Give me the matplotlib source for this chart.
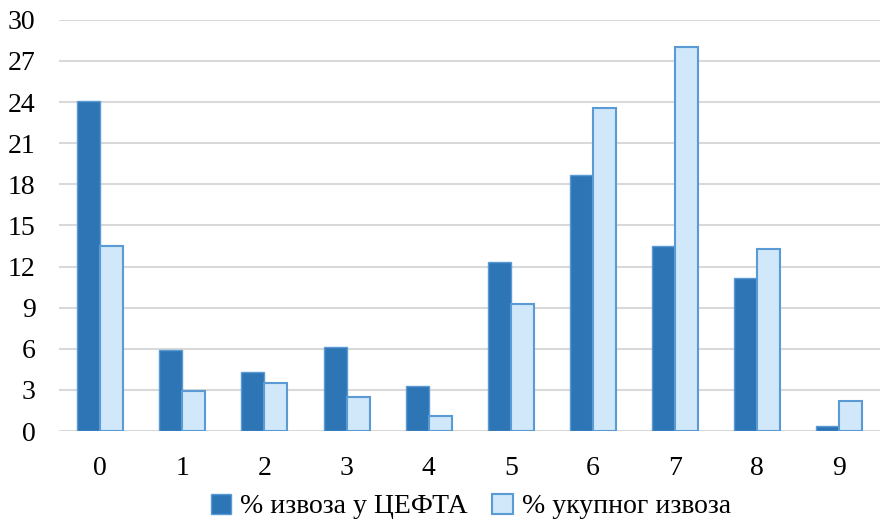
import numpy as np
import matplotlib.pyplot as plt

# ---- data ----
categories = ["0", "1", "2", "3", "4", "5", "6", "7", "8", "9"]
cefta_share = [24.1, 5.9, 4.3, 6.1, 3.3, 12.3, 18.7, 13.5, 11.2, 0.4]
total_share = [13.5, 2.9, 3.5, 2.5, 1.1, 9.3, 23.6, 28.0, 13.3, 2.2]
series_labels = ["% извоза у ЦЕФТА", "% укупног извоза"]

plt.rcParams["font.family"] = ["Liberation Serif", "DejaVu Serif"]

DARK = "#2E75B6"
LIGHT = "#D0E8F9"
EDGE = "#5B9BD5"

fig = plt.figure(figsize=(8.83, 5.20), dpi=100)
ax = fig.add_axes([0.067, 0.171, 0.930, 0.791])

x = np.arange(len(categories))
w = 0.28
ax.bar(x - w / 2, cefta_share, w, color=DARK, edgecolor=EDGE, linewidth=1.0,
       label=series_labels[0], zorder=3)
ax.bar(x + w / 2, total_share, w, color=LIGHT, edgecolor=EDGE, linewidth=1.5,
       label=series_labels[1], zorder=3)

ax.set_xlim(-0.5, len(categories) - 0.5)
ax.set_ylim(0, 30)
ax.set_yticks(np.arange(0, 31, 3))
ax.set_xticks(x)
ax.set_xticklabels(categories)
ax.tick_params(axis="both", length=0, labelsize=20, colors="#000000")
ax.tick_params(axis="x", pad=18)
ax.tick_params(axis="y", pad=17)
ax.grid(axis="y", color="#D9D9D9", linewidth=1.5, zorder=0)
for s in ax.spines.values():
    s.set_visible(False)

fig.legend(loc="center", bbox_to_anchor=(0.533, 0.026), ncol=2, frameon=False,
           fontsize=20, handlelength=0.75, handleheight=0.75, handletextpad=0.3,
           columnspacing=0.9, borderpad=0)

fig.savefig("out.png", dpi=100)
